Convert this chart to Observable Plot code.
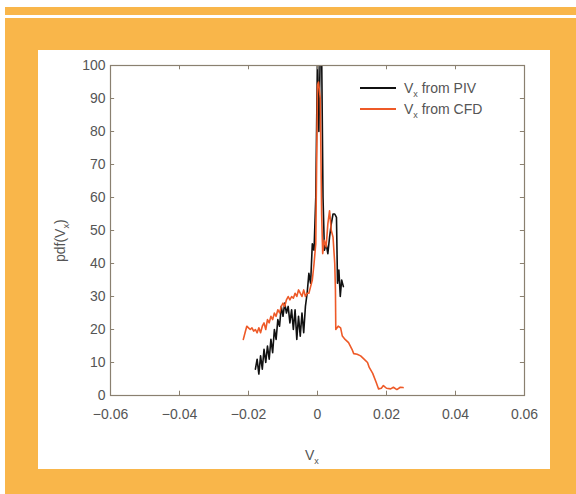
<!DOCTYPE html>
<html>
<head>
<meta charset="utf-8">
<script src="https://cdn.jsdelivr.net/npm/d3@7"></script>
<script src="https://cdn.jsdelivr.net/npm/@observablehq/plot@0.6"></script>
<style>
  html, body { margin: 0; padding: 0; background: #fff; width: 576px; height: 494px; overflow: hidden; }
  body { position: relative; font-family: "Liberation Sans", Arial, sans-serif; color: #555; }
  .strip { position: absolute; left: 5px; top: 7px; width: 571px; height: 8px; background: #F9B64A; }
  .frame { position: absolute; left: 5px; top: 18px; width: 571px; height: 476px; background: #F9B64A; }
  .panel { position: absolute; left: 38px; top: 50px; width: 512px; height: 419px; background: #fff; }
  #chart { position: absolute; left: 0; top: 0; }
  .lbl { position: absolute; font-size: 14px; color: #555; white-space: nowrap; }
  sub { font-size: 9px; vertical-align: -4px; line-height: 0; }
  .legend { position: absolute; left: 322px; top: 27px; font-size: 14px; color: #555; }
  .legend div { height: 21px; display: flex; align-items: center; }
  .legend span.sw { display: inline-block; width: 36px; height: 0; border-top: 2px solid; margin-right: 8px; }
  .legend span.tx { white-space: nowrap; }
</style>
</head>
<body>
<div class="strip"></div>
<div class="frame"></div>
<div class="panel">
  <div id="chart"></div>
  <div class="lbl" style="left:267px; top:397px;">V<sub>x</sub></div>
  <div class="lbl" style="transform: rotate(-90deg); transform-origin: 0 0; top: 212px; left: 14px;">pdf(V<sub>x</sub>)</div>
  <div class="legend">
    <div><span class="sw" style="border-color:#111"></span><span class="tx">V<sub>x</sub> from PIV</span></div>
    <div><span class="sw" style="border-color:#EE5A28"></span><span class="tx">V<sub>x</sub> from CFD</span></div>
  </div>
</div>
<script>
// Series: PIV (black)
const pivV = [-0.0180,-0.0175,-0.0170,-0.0165,-0.0160,-0.0155,-0.0150,-0.0145,-0.0140,-0.0135,-0.0130,-0.0125,-0.0120,-0.0115,-0.0110,-0.0105,-0.0100,-0.0095,-0.0090,-0.0085,-0.0080,-0.0075,-0.0070,-0.0065,-0.0060,-0.0055,-0.0050,-0.0045,-0.0040,-0.0035,-0.0030,-0.0025,-0.0020,-0.0015,-0.0010,-0.0005,0.0000,0.0004,0.0008,0.0012,0.0016,0.0020,0.0025,0.0030,0.0035,0.0040,0.0045,0.0050,0.0055,0.0058,0.0062,0.0066,0.0070,0.0075];
const pivPdf = [8,11,6.5,12,8,14,10,15,11,17,13,20,17,23,21,27,24,28,25,27,22,26,20,26,17,24,18,25,19,27,31,37,34,46,44,60,104,80,104,104,60,44,46,43,48,52,55,55,54,34,38,30,35,33];

// Series: CFD (orange)
const cfdV = [-0.0215,-0.0210,-0.0205,-0.0200,-0.0195,-0.0190,-0.0185,-0.0180,-0.0175,-0.0170,-0.0165,-0.0160,-0.0155,-0.0150,-0.0145,-0.0140,-0.0135,-0.0130,-0.0125,-0.0120,-0.0115,-0.0110,-0.0105,-0.0100,-0.0095,-0.0090,-0.0085,-0.0080,-0.0075,-0.0070,-0.0065,-0.0060,-0.0055,-0.0050,-0.0045,-0.0040,-0.0035,-0.0030,-0.0025,-0.0020,-0.0015,-0.0010,-0.0005,0.0000,0.0003,0.0008,0.0012,0.0015,0.0020,0.0025,0.0030,0.0035,0.0040,0.0045,0.0050,0.0052,0.0053,0.0060,0.0067,0.0072,0.0080,0.0090,0.0100,0.0105,0.0115,0.0125,0.0135,0.0145,0.0150,0.0160,0.0170,0.0177,0.0185,0.0191,0.0200,0.0212,0.0220,0.0230,0.0240,0.0248];
const cfdPdf = [17,19,21,20.5,20,20.5,19.5,20,19,20.5,19,21,22,20,23,22,24,23,25,24,26,25,27,28,27,29,30,29,30,29.5,31,30,32,31,30,32,30,31,31,33,35,40,46,94,95,90,55,43,47,45,52,56,50,48,40,32,20,21,20.5,18,17,16,14,12.7,12.5,12,11,10,8.5,6.7,4,2,2.2,3,2.2,2,2.5,1.8,2.5,2.4];

const xTicks = [-0.06,-0.04,-0.02,0,0.02,0.04,0.06];
const xTickLabels = ["\u22120.06","\u22120.04","\u22120.02","0","0.02","0.04","0.06"];
const yTicks = [0,10,20,30,40,50,60,70,80,90,100];

const piv = pivV.map((v,i)=>({v, p: pivPdf[i]}));
const cfd = cfdV.map((v,i)=>({v, p: cfdPdf[i]}));

const tickLen = 1.3;      // in y data units (~4px)
const tickLenX = 0.0012;  // in x data units (~4px)

const chart = Plot.plot({
  width: 512,
  height: 419,
  marginLeft: 72,
  marginRight: 26,
  marginTop: 15,
  marginBottom: 74,
  x: {domain: [-0.06, 0.06]},
  y: {domain: [0, 100]},
  style: {fontFamily: "Liberation Sans, Arial, sans-serif", fontSize: "14px", color: "#555", background: "transparent"},
  marks: [
    Plot.line(piv, {x: "v", y: "p", stroke: "#111", strokeWidth: 1.6, clip: true}),
    Plot.line(cfd, {x: "v", y: "p", stroke: "#EE5A28", strokeWidth: 1.6, clip: true}),
    Plot.frame({stroke: "#8a8070", strokeWidth: 1.2}),
    Plot.ruleX(xTicks, {x: d=>d, y1: 0, y2: tickLen, stroke: "#8a8070"}),
    Plot.ruleX(xTicks, {x: d=>d, y1: 100 - tickLen, y2: 100, stroke: "#8a8070"}),
    Plot.ruleY(yTicks, {y: d=>d, x1: -0.06, x2: -0.06 + tickLenX, stroke: "#8a8070"}),
    Plot.ruleY(yTicks, {y: d=>d, x1: 0.06 - tickLenX, x2: 0.06, stroke: "#8a8070"}),
    Plot.axisX(xTicks, {anchor: "bottom", tickSize: 0, tickPadding: 14, tickFormat: d=>xTickLabels[xTicks.indexOf(d)], label: null, fill: "#555"}),
    Plot.axisY(yTicks, {anchor: "left", tickSize: 0, tickPadding: 5, label: null, fill: "#555"})
  ]
});
document.getElementById("chart").appendChild(chart);
</script>
</body>
</html>
